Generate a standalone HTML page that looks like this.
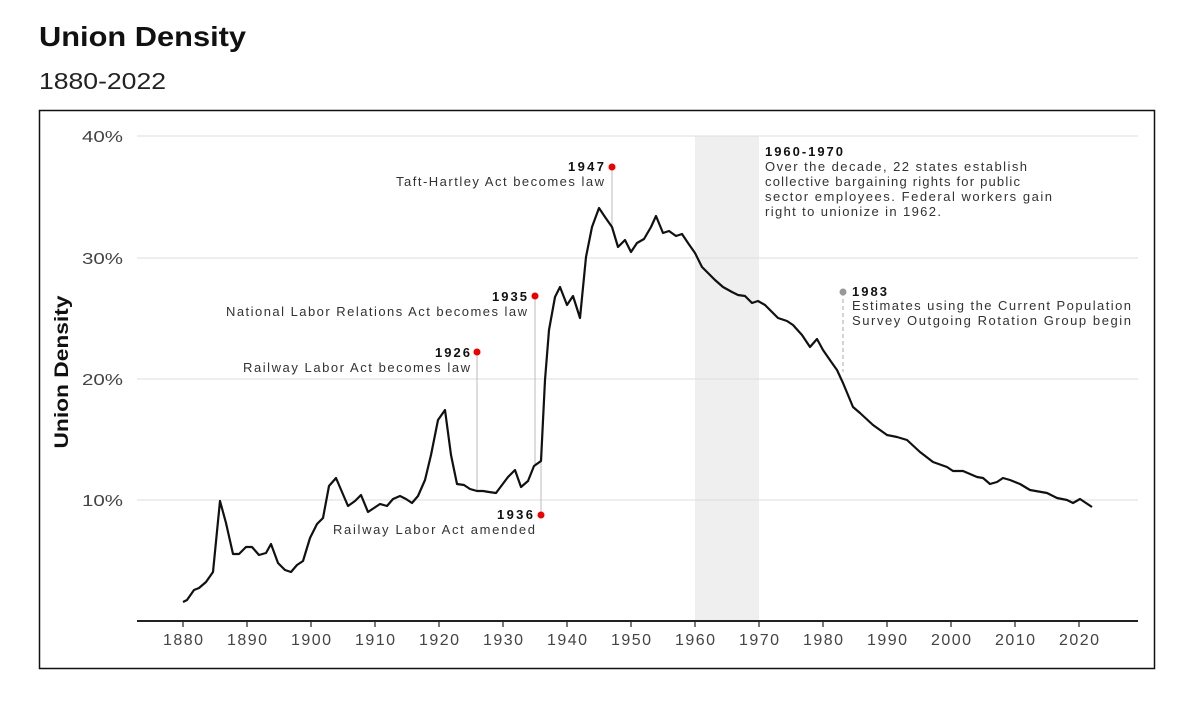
<!DOCTYPE html>
<html><head><style>
body{margin:0;background:#fff;width:1200px;height:700px;overflow:hidden;font-family:"Liberation Sans",sans-serif}
</style></head><body>
<svg width="1200" height="700" xmlns="http://www.w3.org/2000/svg" font-family="Liberation Sans, sans-serif">
<text x="39" y="46" font-size="28" font-weight="bold" fill="#111" textLength="207" lengthAdjust="spacingAndGlyphs">Union Density</text>
<text x="39" y="89" font-size="23" fill="#222" textLength="127" lengthAdjust="spacingAndGlyphs">1880-2022</text>
<rect x="39.5" y="110.5" width="1115" height="558" fill="none" stroke="#111" stroke-width="1.5"/>
<rect x="695" y="136" width="64" height="485" fill="#efefef"/>
<g stroke="#ddd" stroke-width="1">
<line x1="137" x2="1138" y1="136" y2="136"/><line x1="137" x2="1138" y1="258" y2="258"/>
<line x1="137" x2="1138" y1="379" y2="379"/><line x1="137" x2="1138" y1="500" y2="500"/>
</g>
<g font-size="16" fill="#444" text-anchor="end">
<text x="123" y="142" textLength="41" lengthAdjust="spacingAndGlyphs">40%</text><text x="123" y="264" textLength="41" lengthAdjust="spacingAndGlyphs">30%</text><text x="123" y="385" textLength="41" lengthAdjust="spacingAndGlyphs">20%</text><text x="123" y="506" textLength="41" lengthAdjust="spacingAndGlyphs">10%</text>
</g>
<text transform="translate(68,372) rotate(-90)" font-size="19" font-weight="bold" text-anchor="middle" fill="#111" textLength="153" lengthAdjust="spacingAndGlyphs">Union Density</text>
<line x1="137" x2="1138" y1="621" y2="621" stroke="#222" stroke-width="2"/>
<g stroke="#222" stroke-width="1.2">
<line x1="183" x2="183" y1="621" y2="627"/><line x1="247" x2="247" y1="621" y2="627"/><line x1="311" x2="311" y1="621" y2="627"/><line x1="375" x2="375" y1="621" y2="627"/><line x1="439" x2="439" y1="621" y2="627"/><line x1="503" x2="503" y1="621" y2="627"/><line x1="567" x2="567" y1="621" y2="627"/><line x1="631" x2="631" y1="621" y2="627"/><line x1="695" x2="695" y1="621" y2="627"/><line x1="759" x2="759" y1="621" y2="627"/><line x1="823" x2="823" y1="621" y2="627"/><line x1="887" x2="887" y1="621" y2="627"/><line x1="951" x2="951" y1="621" y2="627"/><line x1="1015" x2="1015" y1="621" y2="627"/><line x1="1079" x2="1079" y1="621" y2="627"/>
</g>
<g font-size="16" fill="#444" text-anchor="middle" lengthAdjust="spacingAndGlyphs">
<text x="183" y="645" textLength="40">1880</text><text x="247" y="645" textLength="40">1890</text><text x="311" y="645" textLength="40">1900</text><text x="375" y="645" textLength="40">1910</text><text x="439" y="645" textLength="40">1920</text><text x="503" y="645" textLength="40">1930</text><text x="567" y="645" textLength="40">1940</text><text x="631" y="645" textLength="40">1950</text><text x="695" y="645" textLength="40">1960</text><text x="759" y="645" textLength="40">1970</text><text x="823" y="645" textLength="40">1980</text><text x="887" y="645" textLength="40">1990</text><text x="951" y="645" textLength="40">2000</text><text x="1015" y="645" textLength="40">2010</text><text x="1079" y="645" textLength="40">2020</text>
</g>
<g stroke="#bbb" stroke-width="1">
<line x1="612" x2="612" y1="167" y2="227"/>
<line x1="535" x2="535" y1="296" y2="464"/>
<line x1="477" x2="477" y1="352" y2="491"/>
<line x1="541" x2="541" y1="461" y2="515"/>
</g>
<line x1="843" x2="843" y1="292" y2="372" stroke="#aaa" stroke-dasharray="4,3"/>
<polyline fill="none" stroke="#111" stroke-width="2.2" stroke-linejoin="round" points="183,602 187,600 194,590 199,588 206,582 213,572 220,501 226,523 233,554 239,554 246,547 252,547 259,555 266,553 271,544 278,563 285,570 291,572 297,565 303,561 310,538 317,524 323,518 329,486 336,478 342,492 348,506 355,501 361,495 368,512 374,508 380,504 387,506 393,499 400,496 406,499 412,503 418,496 425,480 431,455 438,420 445,410 451,455 457,484 464,485 470,489 477,491 483,491 489,492 496,493 502,485 508,477 515,470 521,487 528,481 534,466 541,461 545,380 549,330 555,297 560,287 567,305 573,296 580,318 586,257 592,227 599,208 605,217 612,227 618,247 625,240 631,252 637,243 644,239 651,227 656,216 663,233 669,231 676,236 682,234 688,243 695,253 702,267 708,273 715,280 723,287 732,292 738,295 745,296 752,303 758,301 765,305 772,312 778,318 787,321 793,325 802,335 810,347 817,339 823,350 832,363 837,370 843,383 853,407 860,413 873,425 887,435 897,437 907,440 920,452 933,462 947,467 953,471 963,471 977,477 983,478 990,484 997,482 1003,478 1010,480 1020,484 1030,490 1047,493 1057,498 1067,500 1073,503 1080,499 1092,507"/>
<g fill="#e00"><circle cx="612" cy="167" r="3.5"/><circle cx="535" cy="296" r="3.5"/><circle cx="477" cy="352" r="3.5"/><circle cx="541" cy="515" r="3.5"/></g>
<circle cx="843" cy="292" r="3.5" fill="#999"/>
<g font-size="13" fill="#333" text-anchor="end" lengthAdjust="spacingAndGlyphs">
<text x="604" y="171" font-weight="bold" fill="#111" textLength="36">1947</text><text x="604" y="186" textLength="208">Taft-Hartley Act becomes law</text>
<text x="527" y="301" font-weight="bold" fill="#111" textLength="35">1935</text><text x="527" y="316" textLength="301">National Labor Relations Act becomes law</text>
<text x="470" y="357" font-weight="bold" fill="#111" textLength="35">1926</text><text x="470" y="372" textLength="227">Railway Labor Act becomes law</text>
<text x="533" y="519" font-weight="bold" fill="#111" textLength="36">1936</text><text x="535" y="534" textLength="202">Railway Labor Act amended</text>
</g>
<g font-size="13" fill="#333" lengthAdjust="spacingAndGlyphs">
<text x="765" y="156" font-weight="bold" fill="#111" textLength="78">1960-1970</text>
<text x="765" y="171" textLength="262">Over the decade, 22 states establish</text>
<text x="765" y="186" textLength="255">collective bargaining rights for public</text>
<text x="765" y="201" textLength="287">sector employees. Federal workers gain</text>
<text x="765" y="216" textLength="176">right to unionize in 1962.</text>
<text x="852" y="296" font-weight="bold" fill="#111" textLength="35">1983</text>
<text x="852" y="310" textLength="279">Estimates using the Current Population</text>
<text x="852" y="325" textLength="279">Survey Outgoing Rotation Group begin</text>
</g>
</svg>
</body></html>
